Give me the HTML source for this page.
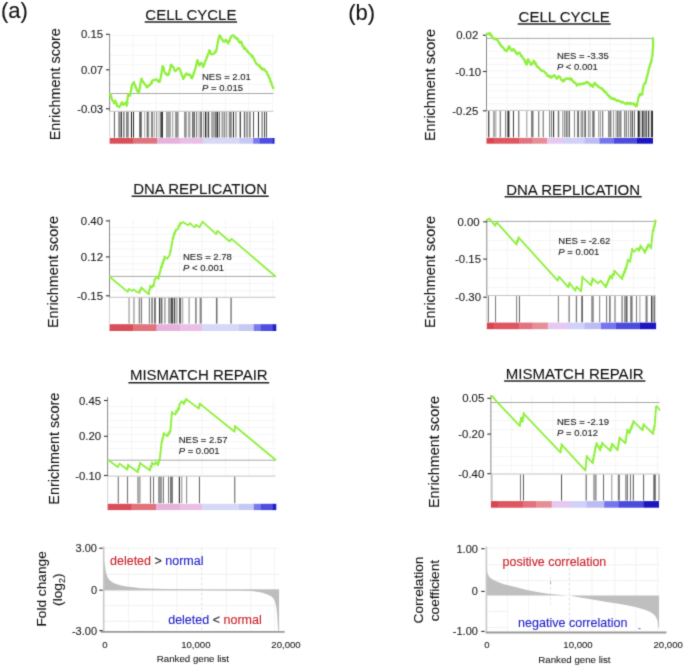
<!DOCTYPE html>
<html><head><meta charset="utf-8"><title>GSEA</title>
<style>html,body{margin:0;padding:0;background:#fff;} svg{display:block;will-change:transform;}</style>
</head><body>
<svg width="685" height="669" viewBox="0 0 685 669" font-family='"Liberation Sans", sans-serif'>
<style>text{stroke-width:0.1px;} .k{stroke:#1a1a1a;} .r{stroke:#c82028;} .b{stroke:#2222c8;}</style>
<defs><filter id="soft" x="0" y="0" width="685" height="669" filterUnits="userSpaceOnUse" color-interpolation-filters="sRGB"><feConvolveMatrix order="3" kernelMatrix="0.037 0.191 0.037 0.191 1 0.191 0.037 0.191 0.037" divisor="1.912" edgeMode="duplicate"/></filter></defs>
<rect width="685" height="669" fill="#fff"/>
<g filter="url(#soft)">
<text x="1.00" y="17.60" font-size="22" text-anchor="start" fill="#111" stroke="#111" >(a)</text>
<text x="348.20" y="20.40" font-size="22" text-anchor="start" fill="#111" stroke="#111" >(b)</text>
<line x1="133.10" y1="34.00" x2="133.10" y2="111.30" stroke="#f5f5f5" stroke-width="1" />
<line x1="155.90" y1="34.00" x2="155.90" y2="111.30" stroke="#f5f5f5" stroke-width="1" />
<line x1="179.50" y1="34.00" x2="179.50" y2="111.30" stroke="#f5f5f5" stroke-width="1" />
<line x1="202.50" y1="34.00" x2="202.50" y2="111.30" stroke="#f5f5f5" stroke-width="1" />
<line x1="225.50" y1="34.00" x2="225.50" y2="111.30" stroke="#f5f5f5" stroke-width="1" />
<line x1="248.60" y1="34.00" x2="248.60" y2="111.30" stroke="#f5f5f5" stroke-width="1" />
<line x1="272.60" y1="34.00" x2="272.60" y2="111.30" stroke="#f5f5f5" stroke-width="1" />
<line x1="109.60" y1="35.50" x2="273.50" y2="35.50" stroke="#f5f5f5" stroke-width="1" />
<line x1="109.60" y1="45.20" x2="273.50" y2="45.20" stroke="#f5f5f5" stroke-width="1" />
<line x1="109.60" y1="55.30" x2="273.50" y2="55.30" stroke="#f5f5f5" stroke-width="1" />
<line x1="109.60" y1="64.60" x2="273.50" y2="64.60" stroke="#f5f5f5" stroke-width="1" />
<line x1="109.60" y1="74.50" x2="273.50" y2="74.50" stroke="#f5f5f5" stroke-width="1" />
<line x1="109.60" y1="84.50" x2="273.50" y2="84.50" stroke="#f5f5f5" stroke-width="1" />
<line x1="109.60" y1="103.30" x2="273.50" y2="103.30" stroke="#f5f5f5" stroke-width="1" />
<line x1="109.60" y1="93.50" x2="273.50" y2="93.50" stroke="#a8a8a8" stroke-width="1" />
<line x1="109.60" y1="111.30" x2="273.50" y2="111.30" stroke="#c4c4c4" stroke-width="1" />
<rect x="113.90" y="111.90" width="1.00" height="25.70" fill="rgb(90,90,90)" />
<rect x="118.27" y="111.90" width="2.47" height="25.70" fill="rgb(140,140,140)" />
<rect x="120.95" y="111.90" width="1.00" height="25.70" fill="rgb(50,50,50)" />
<rect x="123.14" y="111.90" width="1.42" height="25.70" fill="rgb(120,120,120)" />
<rect x="126.35" y="111.90" width="1.00" height="25.70" fill="rgb(70,70,70)" />
<rect x="127.34" y="111.90" width="1.33" height="25.70" fill="rgb(110,110,110)" />
<rect x="130.95" y="111.90" width="1.00" height="25.70" fill="rgb(20,20,20)" />
<rect x="133.05" y="111.90" width="1.00" height="25.70" fill="rgb(40,40,40)" />
<rect x="139.26" y="111.90" width="2.47" height="25.70" fill="rgb(90,90,90)" />
<rect x="144.20" y="111.90" width="1.00" height="25.70" fill="rgb(170,170,170)" />
<rect x="146.75" y="111.90" width="1.00" height="25.70" fill="rgb(60,60,60)" />
<rect x="148.23" y="111.90" width="1.05" height="25.70" fill="rgb(130,130,130)" />
<rect x="151.43" y="111.90" width="1.14" height="25.70" fill="rgb(50,50,50)" />
<rect x="153.75" y="111.90" width="1.00" height="25.70" fill="rgb(150,150,150)" />
<rect x="156.03" y="111.90" width="1.14" height="25.70" fill="rgb(150,150,150)" />
<rect x="158.45" y="111.90" width="1.00" height="25.70" fill="rgb(170,170,170)" />
<rect x="160.34" y="111.90" width="1.61" height="25.70" fill="rgb(70,70,70)" />
<rect x="161.90" y="111.90" width="1.00" height="25.70" fill="rgb(30,30,30)" />
<rect x="165.93" y="111.90" width="4.94" height="25.70" fill="rgb(165,165,165)" />
<rect x="172.25" y="111.90" width="1.00" height="25.70" fill="rgb(150,150,150)" />
<rect x="175.09" y="111.90" width="3.51" height="25.70" fill="rgb(145,145,145)" />
<rect x="183.97" y="111.90" width="2.85" height="25.70" fill="rgb(150,150,150)" />
<rect x="188.06" y="111.90" width="2.38" height="25.70" fill="rgb(165,165,165)" />
<rect x="192.03" y="111.90" width="1.14" height="25.70" fill="rgb(110,110,110)" />
<rect x="193.53" y="111.90" width="1.14" height="25.70" fill="rgb(30,30,30)" />
<rect x="196.03" y="111.90" width="1.14" height="25.70" fill="rgb(120,120,120)" />
<rect x="198.55" y="111.90" width="1.00" height="25.70" fill="rgb(150,150,150)" />
<rect x="200.34" y="111.90" width="1.42" height="25.70" fill="rgb(70,70,70)" />
<rect x="203.10" y="111.90" width="1.00" height="25.70" fill="rgb(160,160,160)" />
<rect x="204.94" y="111.90" width="1.42" height="25.70" fill="rgb(35,35,35)" />
<rect x="207.64" y="111.90" width="1.52" height="25.70" fill="rgb(70,70,70)" />
<rect x="211.09" y="111.90" width="3.32" height="25.70" fill="rgb(165,165,165)" />
<rect x="214.56" y="111.90" width="2.19" height="25.70" fill="rgb(120,120,120)" />
<rect x="216.83" y="111.90" width="1.14" height="25.70" fill="rgb(40,40,40)" />
<rect x="218.73" y="111.90" width="1.14" height="25.70" fill="rgb(100,100,100)" />
<rect x="221.45" y="111.90" width="1.81" height="25.70" fill="rgb(160,160,160)" />
<rect x="223.64" y="111.90" width="1.71" height="25.70" fill="rgb(140,140,140)" />
<rect x="226.25" y="111.90" width="1.00" height="25.70" fill="rgb(130,130,130)" />
<rect x="228.78" y="111.90" width="3.04" height="25.70" fill="rgb(135,135,135)" />
<rect x="232.93" y="111.90" width="1.04" height="25.70" fill="rgb(40,40,40)" />
<rect x="235.04" y="111.90" width="1.71" height="25.70" fill="rgb(170,170,170)" />
<rect x="239.64" y="111.90" width="1.33" height="25.70" fill="rgb(70,70,70)" />
<rect x="243.84" y="111.90" width="1.33" height="25.70" fill="rgb(100,100,100)" />
<rect x="245.96" y="111.90" width="2.28" height="25.70" fill="rgb(160,160,160)" />
<rect x="249.04" y="111.90" width="1.71" height="25.70" fill="rgb(140,140,140)" />
<rect x="253.05" y="111.90" width="1.00" height="25.70" fill="rgb(80,80,80)" />
<rect x="257.95" y="111.90" width="1.00" height="25.70" fill="rgb(40,40,40)" />
<rect x="261.34" y="111.90" width="1.61" height="25.70" fill="rgb(150,150,150)" />
<rect x="264.10" y="111.90" width="1.00" height="25.70" fill="rgb(60,60,60)" />
<rect x="266.05" y="111.90" width="1.00" height="25.70" fill="rgb(90,90,90)" />
<line x1="109.60" y1="111.30" x2="109.60" y2="137.60" stroke="#c8c8c8" stroke-width="0.8" />
<rect x="109.60" y="138.00" width="23.70" height="5.70" fill="#d94f59" />
<rect x="133.00" y="138.00" width="24.30" height="5.70" fill="#e1737c" />
<rect x="157.00" y="138.00" width="23.30" height="5.70" fill="#e6b2dc" />
<rect x="180.00" y="138.00" width="23.80" height="5.70" fill="#e9bfe6" />
<rect x="203.50" y="138.00" width="36.50" height="5.70" fill="#d6d8f7" />
<rect x="239.70" y="138.00" width="13.80" height="5.70" fill="#c6c8f5" />
<rect x="253.20" y="138.00" width="6.70" height="5.70" fill="#7a7aec" />
<rect x="259.60" y="138.00" width="13.10" height="5.70" fill="#4e4ee2" />
<rect x="272.40" y="138.00" width="2.10" height="5.70" fill="#2020c6" />
<line x1="109.60" y1="34.00" x2="109.60" y2="111.30" stroke="#8a8a8a" stroke-width="1" />
<line x1="106.00" y1="34.30" x2="109.60" y2="34.30" stroke="#333" stroke-width="1.1" />
<text x="103.20" y="38.40" font-size="11.4" text-anchor="end" fill="#1a1a1a" stroke="#1a1a1a" >0.15</text>
<line x1="106.00" y1="69.80" x2="109.60" y2="69.80" stroke="#333" stroke-width="1.1" />
<text x="103.20" y="73.90" font-size="11.4" text-anchor="end" fill="#1a1a1a" stroke="#1a1a1a" >0.07</text>
<line x1="106.00" y1="108.80" x2="109.60" y2="108.80" stroke="#333" stroke-width="1.1" />
<text x="103.20" y="112.90" font-size="11.4" text-anchor="end" fill="#1a1a1a" stroke="#1a1a1a" >-0.03</text>
<polyline points="109.9,93.9 110.2,94.1 110.6,95.1 110.7,96.4 111.3,95.9 111.4,97.1 111.8,98.3 112.1,100.0 112.5,100.4 112.8,100.7 113.3,101.4 113.7,101.9 113.8,102.9 114.3,103.3 114.6,103.1 114.6,101.5 115.0,101.9 115.2,100.5 115.6,101.6 115.9,102.3 116.1,102.3 116.4,103.0 116.5,104.6 116.8,103.7 117.1,106.1 117.4,105.8 118.0,106.5 118.6,106.7 119.3,107.1 119.7,106.1 120.1,105.8 120.5,105.3 120.9,105.0 121.0,103.9 121.6,103.5 121.8,102.1 122.3,103.5 122.7,103.8 123.2,104.6 123.7,104.6 124.2,103.5 125.1,104.0 125.6,102.7 126.0,102.7 126.1,104.1 126.6,104.6 126.8,105.8 126.7,105.8 126.8,104.6 127.0,104.1 127.3,103.7 127.4,102.3 127.2,101.2 127.2,101.1 127.4,99.5 127.4,99.7 127.7,97.8 127.8,97.7 127.7,98.1 127.9,96.5 128.0,96.2 128.1,95.3 128.1,94.5 128.7,95.8 129.4,95.2 130.0,95.8 130.1,94.6 130.3,95.3 130.3,93.8 130.6,92.8 130.7,91.3 130.7,91.8 130.9,91.1 131.0,90.4 131.3,89.8 131.2,87.7 131.6,88.3 131.6,86.7 131.7,86.7 131.9,85.8 132.1,84.9 132.5,84.3 132.8,83.5 133.0,83.8 133.5,82.8 133.7,82.0 133.9,82.3 134.2,84.0 134.5,83.5 134.7,85.2 135.1,85.1 135.4,86.9 135.6,87.6 136.1,87.3 136.3,88.3 136.6,89.8 136.9,89.2 137.3,90.5 137.8,91.8 138.0,91.2 138.5,93.2 138.8,93.3 138.9,93.2 139.0,91.1 139.1,91.7 139.3,90.1 139.4,89.5 139.4,89.8 139.8,87.3 139.9,88.3 140.1,86.7 140.0,87.0 140.3,85.9 140.3,85.0 140.4,83.5 140.4,82.7 140.6,82.7 140.7,82.4 141.0,81.9 141.2,81.2 141.2,80.4 141.3,78.9 141.8,78.6 142.0,79.5 142.5,81.1 143.0,81.2 143.2,82.2 143.7,82.2 144.1,83.2 144.4,83.9 144.8,84.2 145.5,85.2 146.0,85.1 146.5,87.2 146.9,87.0 147.4,87.3 148.3,86.5 148.8,85.0 149.5,85.0 150.1,85.1 150.4,84.3 150.7,84.4 151.1,82.3 151.4,81.8 152.0,82.9 152.2,80.5 152.6,80.7 153.3,80.0 154.2,79.8 154.9,80.0 155.7,79.5 156.3,79.3 157.0,79.5 157.6,80.7 158.2,81.6 158.8,80.7 159.5,82.0 159.7,81.0 159.9,81.1 160.1,80.4 160.3,78.9 160.6,78.3 160.7,77.6 160.9,76.7 160.9,76.1 161.1,75.6 161.2,73.9 161.4,73.9 161.4,74.2 161.6,73.5 161.6,71.5 161.9,70.5 162.0,70.9 162.1,70.4 162.1,69.6 162.3,67.6 162.3,66.7 162.3,67.6 162.6,66.3 162.8,66.2 163.1,68.5 163.5,67.4 163.8,68.3 164.1,70.1 164.3,71.4 164.4,71.8 164.8,72.4 165.1,72.6 165.5,73.7 166.2,74.3 166.5,73.6 167.0,75.1 168.0,74.9 168.9,74.5 169.0,73.3 169.2,72.5 169.3,72.8 169.5,71.3 169.6,70.5 169.8,69.3 169.9,70.3 170.0,69.1 170.3,68.3 170.4,67.5 170.6,66.4 170.5,66.5 170.8,65.0 171.5,64.6 172.1,66.7 172.7,66.3 173.1,66.9 173.3,67.1 173.8,67.8 174.0,68.8 174.6,70.3 174.9,70.2 175.2,71.3 175.9,70.5 176.4,70.2 177.1,69.4 177.6,68.4 178.3,68.6 178.9,68.2 179.2,68.3 179.7,69.3 180.2,69.7 180.4,71.1 180.8,71.9 181.2,72.5 181.3,73.9 181.6,74.0 181.8,75.4 182.2,75.9 182.2,76.0 182.6,76.3 182.9,77.9 183.0,78.9 183.3,78.9 183.6,77.6 184.1,76.8 184.5,77.5 184.8,75.6 185.1,75.0 185.3,75.1 185.8,73.9 186.6,73.4 187.1,74.1 187.8,75.0 188.4,75.1 189.2,74.1 190.0,75.0 190.4,75.6 190.8,75.8 191.2,78.0 191.5,77.8 192.0,78.4 192.3,77.3 192.6,76.3 192.5,77.2 192.9,76.6 193.2,75.6 193.4,73.9 193.6,74.0 193.9,72.5 194.0,72.3 194.3,72.6 194.4,71.0 194.7,70.3 195.0,70.1 195.1,69.1 195.4,68.3 195.6,67.9 195.9,66.2 195.8,66.4 196.0,66.2 196.4,64.3 196.5,64.1 196.7,63.4 196.8,62.0 197.1,60.8 197.2,61.4 197.4,60.2 197.6,61.4 197.9,61.1 198.0,63.0 198.3,62.9 198.6,64.1 198.9,63.9 199.2,65.0 199.4,65.6 200.0,64.6 200.3,63.5 200.8,62.8 201.4,62.9 201.8,64.1 202.0,63.6 202.5,64.8 202.8,66.3 203.0,66.5 203.4,67.0 203.5,66.1 203.8,65.7 204.0,64.4 204.1,64.8 204.6,64.2 204.6,63.8 204.9,62.3 205.2,61.8 205.2,61.3 205.5,60.2 205.8,60.3 206.2,59.1 206.6,57.2 206.8,57.9 207.2,56.9 207.5,56.2 207.7,54.9 207.9,53.9 208.1,54.5 208.5,53.7 208.5,53.7 208.9,52.8 209.0,50.6 209.2,50.3 209.5,50.2 210.0,50.9 210.3,51.2 210.4,52.6 210.9,53.6 211.2,54.4 211.5,54.2 212.1,54.3 213.0,54.1 213.5,53.9 214.2,52.8 214.9,52.9 215.4,51.2 216.2,51.5 216.2,49.9 216.5,49.3 216.6,49.7 216.8,48.4 216.8,47.4 217.0,47.6 217.2,45.7 217.2,46.0 217.4,44.6 217.5,44.1 217.6,43.6 217.8,41.7 217.9,42.5 218.1,41.1 218.3,39.9 218.5,39.6 218.6,38.1 218.9,37.6 218.9,36.7 219.2,36.7 219.3,36.5 219.6,35.4 220.0,35.9 220.5,35.8 220.7,36.8 221.1,38.0 221.6,38.7 222.1,39.6 222.5,39.3 223.0,41.2 223.6,41.4 224.3,41.7 224.9,41.6 225.6,39.9 226.3,40.1 226.7,41.4 227.0,41.1 227.6,42.4 227.8,42.9 228.3,43.4 228.4,41.8 228.7,41.4 229.2,40.5 229.3,41.5 229.6,41.0 230.0,40.0 230.1,39.6 230.5,37.6 230.6,38.3 231.0,36.7 231.8,36.0 232.3,35.3 233.1,35.4 233.7,35.4 234.1,36.8 234.8,36.9 235.2,37.6 235.7,37.4 236.3,38.7 237.0,38.1 237.7,38.7 238.0,39.9 238.3,39.6 238.7,41.2 239.0,41.9 239.3,42.1 239.7,42.8 240.2,42.5 241.0,41.4 241.3,42.0 241.4,43.1 241.9,42.9 242.2,44.4 242.3,45.5 242.6,46.2 242.8,45.8 243.1,46.8 243.6,46.5 244.0,48.8 244.5,48.6 245.2,48.1 245.7,49.5 246.0,49.5 246.6,49.9 246.9,51.3 247.6,51.2 248.0,51.7 248.4,52.8 249.2,53.2 249.8,54.1 250.3,54.4 251.1,54.9 251.4,54.9 251.9,56.9 252.6,55.9 253.0,57.0 253.3,57.4 253.8,58.9 254.3,59.0 254.6,60.5 255.1,61.4 255.4,61.3 255.6,62.1 256.1,63.6 256.5,63.6 257.1,64.7 257.8,64.5 258.5,64.9 258.8,65.9 259.4,65.7 259.9,65.7 260.3,67.6 260.8,68.0 261.2,68.3 261.8,68.0 262.5,69.8 263.1,68.9 263.8,68.8 264.6,69.6 265.2,71.0 265.7,71.3 266.2,71.3 266.6,71.6 266.9,72.3 267.3,73.8 267.5,74.5 267.7,74.8 268.2,76.0 268.4,75.2 268.6,76.3 268.7,76.3 269.1,78.1 269.5,78.4 269.8,78.1 269.9,79.3 270.3,80.1 270.4,81.6 270.7,80.9 270.9,82.2 271.3,83.1 271.6,83.1 271.9,84.8 272.2,86.0 272.2,85.5 272.5,86.0 272.8,87.1 273.2,87.5 273.3,88.4" fill="none" stroke="#8ef03c" stroke-width="2.2" stroke-linejoin="round" stroke-linecap="round"/>
<text x="202.00" y="80.10" font-size="9.5" text-anchor="start" fill="#1a1a1a" stroke="#1a1a1a" >NES = 2.01</text>
<text x="202.00" y="90.90" font-size="9.5" text-anchor="start" fill="#1a1a1a" stroke="#1a1a1a" ><tspan font-style="italic">P</tspan> = 0.015</text>
<text x="190.90" y="19.80" font-size="15" text-anchor="middle" fill="#111" stroke="#111" >CELL CYCLE</text>
<line x1="144.70" y1="21.90" x2="237.10" y2="21.90" stroke="#222" stroke-width="1.5" />
<text x="0" y="0" font-size="14.4" text-anchor="middle" fill="#111" stroke="#111" transform="translate(59.90,84.30) rotate(-90)">Enrichment score</text>
<line x1="133.10" y1="219.50" x2="133.10" y2="297.30" stroke="#f5f5f5" stroke-width="1" />
<line x1="156.70" y1="219.50" x2="156.70" y2="297.30" stroke="#f5f5f5" stroke-width="1" />
<line x1="179.50" y1="219.50" x2="179.50" y2="297.30" stroke="#f5f5f5" stroke-width="1" />
<line x1="202.00" y1="219.50" x2="202.00" y2="297.30" stroke="#f5f5f5" stroke-width="1" />
<line x1="225.50" y1="219.50" x2="225.50" y2="297.30" stroke="#f5f5f5" stroke-width="1" />
<line x1="249.70" y1="219.50" x2="249.70" y2="297.30" stroke="#f5f5f5" stroke-width="1" />
<line x1="272.60" y1="219.50" x2="272.60" y2="297.30" stroke="#f5f5f5" stroke-width="1" />
<line x1="109.50" y1="227.50" x2="275.50" y2="227.50" stroke="#f5f5f5" stroke-width="1" />
<line x1="109.50" y1="234.50" x2="275.50" y2="234.50" stroke="#f5f5f5" stroke-width="1" />
<line x1="109.50" y1="241.50" x2="275.50" y2="241.50" stroke="#f5f5f5" stroke-width="1" />
<line x1="109.50" y1="249.00" x2="275.50" y2="249.00" stroke="#f5f5f5" stroke-width="1" />
<line x1="109.50" y1="256.50" x2="275.50" y2="256.50" stroke="#f5f5f5" stroke-width="1" />
<line x1="109.50" y1="263.80" x2="275.50" y2="263.80" stroke="#f5f5f5" stroke-width="1" />
<line x1="109.50" y1="269.50" x2="275.50" y2="269.50" stroke="#f5f5f5" stroke-width="1" />
<line x1="109.50" y1="283.30" x2="275.50" y2="283.30" stroke="#f5f5f5" stroke-width="1" />
<line x1="109.50" y1="290.70" x2="275.50" y2="290.70" stroke="#f5f5f5" stroke-width="1" />
<line x1="109.50" y1="276.40" x2="275.50" y2="276.40" stroke="#a8a8a8" stroke-width="1" />
<line x1="109.50" y1="297.30" x2="275.50" y2="297.30" stroke="#c4c4c4" stroke-width="1" />
<rect x="128.34" y="297.90" width="1.42" height="25.70" fill="rgb(170,170,170)" />
<rect x="133.24" y="297.90" width="1.42" height="25.70" fill="rgb(160,160,160)" />
<rect x="138.73" y="297.90" width="1.14" height="25.70" fill="rgb(120,120,120)" />
<rect x="140.83" y="297.90" width="1.23" height="25.70" fill="rgb(120,120,120)" />
<rect x="148.83" y="297.90" width="1.14" height="25.70" fill="rgb(130,130,130)" />
<rect x="151.34" y="297.90" width="1.42" height="25.70" fill="rgb(110,110,110)" />
<rect x="154.05" y="297.90" width="1.81" height="25.70" fill="rgb(110,110,110)" />
<rect x="158.93" y="297.90" width="1.23" height="25.70" fill="rgb(60,60,60)" />
<rect x="160.65" y="297.90" width="1.81" height="25.70" fill="rgb(110,110,110)" />
<rect x="164.04" y="297.90" width="1.71" height="25.70" fill="rgb(170,170,170)" />
<rect x="168.07" y="297.90" width="2.56" height="25.70" fill="rgb(160,160,160)" />
<rect x="170.76" y="297.90" width="2.38" height="25.70" fill="rgb(80,80,80)" />
<rect x="173.84" y="297.90" width="1.42" height="25.70" fill="rgb(70,70,70)" />
<rect x="176.23" y="297.90" width="1.24" height="25.70" fill="rgb(150,150,150)" />
<rect x="179.06" y="297.90" width="2.09" height="25.70" fill="rgb(100,100,100)" />
<rect x="182.13" y="297.90" width="1.14" height="25.70" fill="rgb(170,170,170)" />
<rect x="188.53" y="297.90" width="1.14" height="25.70" fill="rgb(150,150,150)" />
<rect x="195.04" y="297.90" width="1.71" height="25.70" fill="rgb(140,140,140)" />
<rect x="199.65" y="297.90" width="2.09" height="25.70" fill="rgb(130,130,130)" />
<rect x="215.94" y="297.90" width="1.52" height="25.70" fill="rgb(110,110,110)" />
<rect x="230.34" y="297.90" width="1.52" height="25.70" fill="rgb(130,130,130)" />
<line x1="109.50" y1="297.30" x2="109.50" y2="323.60" stroke="#c8c8c8" stroke-width="0.8" />
<rect x="109.50" y="324.20" width="23.80" height="6.80" fill="#d94f59" />
<rect x="133.00" y="324.20" width="23.80" height="6.80" fill="#e1737c" />
<rect x="156.50" y="324.20" width="23.80" height="6.80" fill="#e6b2dc" />
<rect x="180.00" y="324.20" width="22.40" height="6.80" fill="#e9bfe6" />
<rect x="202.10" y="324.20" width="37.20" height="6.80" fill="#d6d8f7" />
<rect x="239.00" y="324.20" width="15.10" height="6.80" fill="#c6c8f5" />
<rect x="253.80" y="324.20" width="7.00" height="6.80" fill="#7a7aec" />
<rect x="260.50" y="324.20" width="12.40" height="6.80" fill="#4e4ee2" />
<rect x="272.60" y="324.20" width="3.70" height="6.80" fill="#2020c6" />
<line x1="109.50" y1="219.50" x2="109.50" y2="297.30" stroke="#8a8a8a" stroke-width="1" />
<line x1="105.90" y1="220.90" x2="109.50" y2="220.90" stroke="#333" stroke-width="1.1" />
<text x="103.00" y="225.00" font-size="11.4" text-anchor="end" fill="#1a1a1a" stroke="#1a1a1a" >0.40</text>
<line x1="105.90" y1="256.90" x2="109.50" y2="256.90" stroke="#333" stroke-width="1.1" />
<text x="103.00" y="261.00" font-size="11.4" text-anchor="end" fill="#1a1a1a" stroke="#1a1a1a" >0.12</text>
<line x1="105.90" y1="295.80" x2="109.50" y2="295.80" stroke="#333" stroke-width="1.1" />
<text x="103.00" y="299.90" font-size="11.4" text-anchor="end" fill="#1a1a1a" stroke="#1a1a1a" >-0.15</text>
<polyline points="109.6,276.7 127.7,291.9 129.0,288.9 131.7,290.9 133.6,289.6 136.3,291.5 139.5,292.8 139.8,289.7 140.8,290.5 141.2,287.4 142.2,288.2 145.5,291.5 149.0,294.2 149.2,289.3 149.8,290.5 150.1,285.6 150.7,286.9 152.0,287.8 152.7,285.0 154.0,286.0 154.1,282.2 154.3,283.2 154.4,279.4 154.7,280.4 156.6,276.4 158.6,279.0 158.8,275.5 159.3,276.4 159.4,272.9 159.9,273.8 160.1,270.3 160.6,271.2 160.9,266.3 161.9,267.5 162.2,262.6 163.2,263.9 163.4,259.5 164.2,260.6 164.4,256.3 165.2,257.4 167.2,258.7 169.8,254.7 170.0,251.6 170.4,252.4 170.6,249.3 171.1,250.1 171.2,246.5 171.5,247.5 171.6,243.9 172.0,244.8 172.1,241.3 172.4,242.2 172.7,237.3 173.4,238.6 173.7,233.7 174.4,235.0 174.7,231.9 175.4,232.7 175.7,229.6 176.4,230.4 178.3,228.4 178.6,225.3 179.7,226.1 180.0,223.0 181.0,223.8 182.9,221.9 185.6,223.8 188.2,225.1 190.2,223.2 192.0,225.4 194.7,227.4 196.1,224.8 199.4,227.4 200.8,224.8 202.5,221.7 216.2,234.2 217.5,230.8 229.6,241.5 231.6,238.9 275.3,276.2" fill="none" stroke="#8ef03c" stroke-width="1.8" stroke-linejoin="round" stroke-linecap="round"/>
<text x="183.00" y="260.10" font-size="9.5" text-anchor="start" fill="#1a1a1a" stroke="#1a1a1a" >NES = 2.78</text>
<text x="183.00" y="270.80" font-size="9.5" text-anchor="start" fill="#1a1a1a" stroke="#1a1a1a" ><tspan font-style="italic">P</tspan> &lt; 0.001</text>
<text x="200.15" y="194.40" font-size="15" text-anchor="middle" fill="#111" stroke="#111" >DNA REPLICATION</text>
<line x1="131.60" y1="196.30" x2="268.70" y2="196.30" stroke="#222" stroke-width="1.5" />
<text x="0" y="0" font-size="14.4" text-anchor="middle" fill="#111" stroke="#111" transform="translate(58.10,272.00) rotate(-90)">Enrichment score</text>
<line x1="131.60" y1="397.10" x2="131.60" y2="476.10" stroke="#f5f5f5" stroke-width="1" />
<line x1="155.30" y1="397.10" x2="155.30" y2="476.10" stroke="#f5f5f5" stroke-width="1" />
<line x1="178.80" y1="397.10" x2="178.80" y2="476.10" stroke="#f5f5f5" stroke-width="1" />
<line x1="201.80" y1="397.10" x2="201.80" y2="476.10" stroke="#f5f5f5" stroke-width="1" />
<line x1="225.60" y1="397.10" x2="225.60" y2="476.10" stroke="#f5f5f5" stroke-width="1" />
<line x1="248.70" y1="397.10" x2="248.70" y2="476.10" stroke="#f5f5f5" stroke-width="1" />
<line x1="273.30" y1="397.10" x2="273.30" y2="476.10" stroke="#f5f5f5" stroke-width="1" />
<line x1="107.60" y1="406.50" x2="275.50" y2="406.50" stroke="#f5f5f5" stroke-width="1" />
<line x1="107.60" y1="413.50" x2="275.50" y2="413.50" stroke="#f5f5f5" stroke-width="1" />
<line x1="107.60" y1="420.50" x2="275.50" y2="420.50" stroke="#f5f5f5" stroke-width="1" />
<line x1="107.60" y1="427.50" x2="275.50" y2="427.50" stroke="#f5f5f5" stroke-width="1" />
<line x1="107.60" y1="434.50" x2="275.50" y2="434.50" stroke="#f5f5f5" stroke-width="1" />
<line x1="107.60" y1="441.50" x2="275.50" y2="441.50" stroke="#f5f5f5" stroke-width="1" />
<line x1="107.60" y1="448.50" x2="275.50" y2="448.50" stroke="#f5f5f5" stroke-width="1" />
<line x1="107.60" y1="467.50" x2="275.50" y2="467.50" stroke="#f5f5f5" stroke-width="1" />
<line x1="107.60" y1="460.20" x2="275.50" y2="460.20" stroke="#a8a8a8" stroke-width="1" />
<line x1="107.60" y1="476.10" x2="275.50" y2="476.10" stroke="#c4c4c4" stroke-width="1" />
<rect x="117.73" y="476.70" width="1.14" height="26.60" fill="rgb(120,120,120)" />
<rect x="126.93" y="476.70" width="1.14" height="26.60" fill="rgb(120,120,120)" />
<rect x="137.09" y="476.70" width="3.51" height="26.60" fill="rgb(170,170,170)" />
<rect x="149.93" y="476.70" width="1.14" height="26.60" fill="rgb(115,115,115)" />
<rect x="153.05" y="476.70" width="1.00" height="26.60" fill="rgb(110,110,110)" />
<rect x="158.10" y="476.70" width="3.80" height="26.60" fill="rgb(150,150,150)" />
<rect x="162.85" y="476.70" width="1.00" height="26.60" fill="rgb(100,100,100)" />
<rect x="168.05" y="476.70" width="1.00" height="26.60" fill="rgb(120,120,120)" />
<rect x="169.98" y="476.70" width="2.94" height="26.60" fill="rgb(120,120,120)" />
<rect x="178.83" y="476.70" width="1.14" height="26.60" fill="rgb(50,50,50)" />
<rect x="181.25" y="476.70" width="1.00" height="26.60" fill="rgb(140,140,140)" />
<rect x="186.15" y="476.70" width="1.00" height="26.60" fill="rgb(130,130,130)" />
<rect x="198.93" y="476.70" width="1.04" height="26.60" fill="rgb(100,100,100)" />
<rect x="234.23" y="476.70" width="1.05" height="26.60" fill="rgb(100,100,100)" />
<line x1="107.60" y1="476.10" x2="107.60" y2="503.30" stroke="#c8c8c8" stroke-width="0.8" />
<rect x="107.60" y="503.80" width="24.30" height="6.30" fill="#d94f59" />
<rect x="131.60" y="503.80" width="24.70" height="6.30" fill="#e1737c" />
<rect x="156.00" y="503.80" width="24.30" height="6.30" fill="#e6b2dc" />
<rect x="180.00" y="503.80" width="22.40" height="6.30" fill="#e9bfe6" />
<rect x="202.10" y="503.80" width="37.20" height="6.30" fill="#d6d8f7" />
<rect x="239.00" y="503.80" width="15.10" height="6.30" fill="#c6c8f5" />
<rect x="253.80" y="503.80" width="7.00" height="6.30" fill="#7a7aec" />
<rect x="260.50" y="503.80" width="12.40" height="6.30" fill="#4e4ee2" />
<rect x="272.60" y="503.80" width="3.70" height="6.30" fill="#2020c6" />
<line x1="107.60" y1="397.10" x2="107.60" y2="476.10" stroke="#8a8a8a" stroke-width="1" />
<line x1="104.00" y1="400.50" x2="107.60" y2="400.50" stroke="#333" stroke-width="1.1" />
<text x="101.20" y="404.60" font-size="11.4" text-anchor="end" fill="#1a1a1a" stroke="#1a1a1a" >0.45</text>
<line x1="104.00" y1="436.30" x2="107.60" y2="436.30" stroke="#333" stroke-width="1.1" />
<text x="101.20" y="440.40" font-size="11.4" text-anchor="end" fill="#1a1a1a" stroke="#1a1a1a" >0.20</text>
<line x1="104.00" y1="475.50" x2="107.60" y2="475.50" stroke="#333" stroke-width="1.1" />
<text x="101.20" y="479.60" font-size="11.4" text-anchor="end" fill="#1a1a1a" stroke="#1a1a1a" >-0.10</text>
<polyline points="108.2,460.1 117.8,467.1 119.6,463.6 127.4,469.7 127.5,466.7 127.9,467.5 128.0,464.5 128.3,465.3 138.0,472.3 138.2,468.4 138.9,469.4 139.1,465.5 139.7,466.5 140.0,462.6 140.6,463.6 150.2,470.6 150.5,465.9 151.6,467.1 151.9,462.4 152.9,463.6 154.5,464.8 155.5,462.0 158.1,465.3 158.3,461.8 159.0,462.7 159.2,459.2 159.9,460.1 160.0,455.8 160.2,456.9 160.3,452.7 160.6,453.8 160.7,449.5 160.9,450.6 161.0,446.4 161.3,447.5 161.3,443.2 161.6,444.3 161.8,440.8 162.2,441.7 162.4,438.1 162.9,439.1 163.1,435.5 163.6,436.4 163.7,432.9 164.2,433.8 167.7,436.4 168.0,433.4 169.1,434.2 169.4,431.2 170.4,432.0 170.5,427.7 170.7,428.8 170.8,424.5 171.0,425.6 171.0,421.3 171.2,422.4 171.3,418.1 171.5,419.2 171.6,414.9 171.8,416.0 171.9,411.7 172.1,412.8 175.6,414.5 176.0,411.0 177.3,411.9 177.8,408.4 179.1,409.3 179.2,406.3 179.3,407.1 179.4,404.1 179.5,404.9 181.7,401.2 184.0,404.1 184.4,401.1 185.4,401.9 185.8,398.9 186.9,399.7 198.8,408.6 199.0,405.6 199.6,406.4 199.7,403.3 200.3,404.1 234.6,431.7 234.7,428.2 234.9,429.1 235.0,425.6 235.3,426.5 275.5,459.7" fill="none" stroke="#8ef03c" stroke-width="1.8" stroke-linejoin="round" stroke-linecap="round"/>
<text x="178.70" y="443.20" font-size="9.5" text-anchor="start" fill="#1a1a1a" stroke="#1a1a1a" >NES = 2.57</text>
<text x="178.70" y="454.00" font-size="9.5" text-anchor="start" fill="#1a1a1a" stroke="#1a1a1a" ><tspan font-style="italic">P</tspan> = 0.001</text>
<text x="198.80" y="380.40" font-size="15" text-anchor="middle" fill="#111" stroke="#111" >MISMATCH REPAIR</text>
<line x1="128.40" y1="382.80" x2="269.20" y2="382.80" stroke="#222" stroke-width="1.5" />
<text x="0" y="0" font-size="14.4" text-anchor="middle" fill="#111" stroke="#111" transform="translate(59.00,448.70) rotate(-90)">Enrichment score</text>
<line x1="507.20" y1="33.00" x2="507.20" y2="110.40" stroke="#f5f5f5" stroke-width="1" />
<line x1="527.90" y1="33.00" x2="527.90" y2="110.40" stroke="#f5f5f5" stroke-width="1" />
<line x1="548.70" y1="33.00" x2="548.70" y2="110.40" stroke="#f5f5f5" stroke-width="1" />
<line x1="569.30" y1="33.00" x2="569.30" y2="110.40" stroke="#f5f5f5" stroke-width="1" />
<line x1="590.20" y1="33.00" x2="590.20" y2="110.40" stroke="#f5f5f5" stroke-width="1" />
<line x1="610.20" y1="33.00" x2="610.20" y2="110.40" stroke="#f5f5f5" stroke-width="1" />
<line x1="630.70" y1="33.00" x2="630.70" y2="110.40" stroke="#f5f5f5" stroke-width="1" />
<line x1="652.00" y1="33.00" x2="652.00" y2="110.40" stroke="#f5f5f5" stroke-width="1" />
<line x1="486.50" y1="44.30" x2="653.00" y2="44.30" stroke="#f5f5f5" stroke-width="1" />
<line x1="486.50" y1="51.20" x2="653.00" y2="51.20" stroke="#f5f5f5" stroke-width="1" />
<line x1="486.50" y1="58.10" x2="653.00" y2="58.10" stroke="#f5f5f5" stroke-width="1" />
<line x1="486.50" y1="64.40" x2="653.00" y2="64.40" stroke="#f5f5f5" stroke-width="1" />
<line x1="486.50" y1="71.00" x2="653.00" y2="71.00" stroke="#f5f5f5" stroke-width="1" />
<line x1="486.50" y1="77.60" x2="653.00" y2="77.60" stroke="#f5f5f5" stroke-width="1" />
<line x1="486.50" y1="84.50" x2="653.00" y2="84.50" stroke="#f5f5f5" stroke-width="1" />
<line x1="486.50" y1="90.80" x2="653.00" y2="90.80" stroke="#f5f5f5" stroke-width="1" />
<line x1="486.50" y1="97.70" x2="653.00" y2="97.70" stroke="#f5f5f5" stroke-width="1" />
<line x1="486.50" y1="104.00" x2="653.00" y2="104.00" stroke="#f5f5f5" stroke-width="1" />
<line x1="486.50" y1="38.40" x2="653.00" y2="38.40" stroke="#a8a8a8" stroke-width="1" />
<line x1="486.50" y1="110.40" x2="653.00" y2="110.40" stroke="#c4c4c4" stroke-width="1" />
<rect x="488.20" y="111.00" width="1.10" height="26.30" fill="rgb(40,40,40)" />
<rect x="492.89" y="111.00" width="2.12" height="26.30" fill="rgb(170,170,170)" />
<rect x="495.35" y="111.00" width="1.00" height="26.30" fill="rgb(160,160,160)" />
<rect x="499.75" y="111.00" width="1.00" height="26.30" fill="rgb(100,100,100)" />
<rect x="505.09" y="111.00" width="1.02" height="26.30" fill="rgb(120,120,120)" />
<rect x="507.38" y="111.00" width="2.04" height="26.30" fill="rgb(50,50,50)" />
<rect x="512.95" y="111.00" width="1.00" height="26.30" fill="rgb(60,60,60)" />
<rect x="518.29" y="111.00" width="1.02" height="26.30" fill="rgb(90,90,90)" />
<rect x="526.29" y="111.00" width="1.02" height="26.30" fill="rgb(150,150,150)" />
<rect x="531.11" y="111.00" width="2.38" height="26.30" fill="rgb(120,120,120)" />
<rect x="538.25" y="111.00" width="1.00" height="26.30" fill="rgb(100,100,100)" />
<rect x="542.69" y="111.00" width="1.02" height="26.30" fill="rgb(100,100,100)" />
<rect x="549.12" y="111.00" width="1.00" height="26.30" fill="rgb(122,122,122)" />
<rect x="550.98" y="111.00" width="1.00" height="26.30" fill="rgb(122,122,122)" />
<rect x="553.09" y="111.00" width="1.02" height="26.30" fill="rgb(30,30,30)" />
<rect x="557.74" y="111.00" width="1.53" height="26.30" fill="rgb(120,120,120)" />
<rect x="562.29" y="111.00" width="1.02" height="26.30" fill="rgb(140,140,140)" />
<rect x="564.29" y="111.00" width="1.00" height="26.30" fill="rgb(108,108,108)" />
<rect x="565.86" y="111.00" width="1.00" height="26.30" fill="rgb(108,108,108)" />
<rect x="567.44" y="111.00" width="1.00" height="26.30" fill="rgb(108,108,108)" />
<rect x="569.01" y="111.00" width="1.00" height="26.30" fill="rgb(108,108,108)" />
<rect x="573.95" y="111.00" width="1.00" height="26.30" fill="rgb(130,130,130)" />
<rect x="577.16" y="111.00" width="1.87" height="26.30" fill="rgb(110,110,110)" />
<rect x="580.67" y="111.00" width="1.00" height="26.30" fill="rgb(117,117,117)" />
<rect x="582.23" y="111.00" width="1.00" height="26.30" fill="rgb(117,117,117)" />
<rect x="584.26" y="111.00" width="1.79" height="26.30" fill="rgb(110,110,110)" />
<rect x="587.89" y="111.00" width="1.02" height="26.30" fill="rgb(150,150,150)" />
<rect x="589.55" y="111.00" width="1.00" height="26.30" fill="rgb(130,130,130)" />
<rect x="592.30" y="111.00" width="2.29" height="26.30" fill="rgb(110,110,110)" />
<rect x="598.29" y="111.00" width="1.02" height="26.30" fill="rgb(140,140,140)" />
<rect x="599.95" y="111.00" width="1.00" height="26.30" fill="rgb(160,160,160)" />
<rect x="602.01" y="111.00" width="1.27" height="26.30" fill="rgb(130,130,130)" />
<rect x="607.96" y="111.00" width="1.87" height="26.30" fill="rgb(140,140,140)" />
<rect x="610.11" y="111.00" width="1.27" height="26.30" fill="rgb(110,110,110)" />
<rect x="612.95" y="111.00" width="1.00" height="26.30" fill="rgb(150,150,150)" />
<rect x="615.55" y="111.00" width="1.00" height="26.30" fill="rgb(140,140,140)" />
<rect x="617.09" y="111.00" width="1.02" height="26.30" fill="rgb(110,110,110)" />
<rect x="618.58" y="111.00" width="1.00" height="26.30" fill="rgb(77,77,77)" />
<rect x="620.33" y="111.00" width="1.00" height="26.30" fill="rgb(77,77,77)" />
<rect x="624.03" y="111.00" width="1.45" height="26.30" fill="rgb(130,130,130)" />
<rect x="626.00" y="111.00" width="1.00" height="26.30" fill="rgb(130,130,130)" />
<rect x="627.95" y="111.00" width="1.00" height="26.30" fill="rgb(130,130,130)" />
<rect x="630.30" y="111.00" width="1.00" height="26.30" fill="rgb(72,72,72)" />
<rect x="631.90" y="111.00" width="1.00" height="26.30" fill="rgb(72,72,72)" />
<rect x="633.90" y="111.00" width="1.00" height="26.30" fill="rgb(100,100,100)" />
<rect x="637.68" y="111.00" width="2.04" height="26.30" fill="rgb(30,30,30)" />
<rect x="640.35" y="111.00" width="1.00" height="26.30" fill="rgb(170,170,170)" />
<rect x="641.89" y="111.00" width="1.02" height="26.30" fill="rgb(40,40,40)" />
<rect x="643.33" y="111.00" width="1.00" height="26.30" fill="rgb(78,78,78)" />
<rect x="644.60" y="111.00" width="1.00" height="26.30" fill="rgb(78,78,78)" />
<rect x="645.87" y="111.00" width="1.00" height="26.30" fill="rgb(78,78,78)" />
<rect x="647.89" y="111.00" width="1.02" height="26.30" fill="rgb(40,40,40)" />
<rect x="649.40" y="111.00" width="1.00" height="26.30" fill="rgb(170,170,170)" />
<rect x="651.24" y="111.00" width="1.61" height="26.30" fill="rgb(10,10,10)" />
<line x1="486.50" y1="110.40" x2="486.50" y2="137.30" stroke="#c8c8c8" stroke-width="0.8" />
<rect x="486.50" y="137.90" width="8.30" height="5.80" fill="#da4650" />
<rect x="494.50" y="137.90" width="25.30" height="5.80" fill="#de5660" />
<rect x="519.50" y="137.90" width="13.40" height="5.80" fill="#e2727e" />
<rect x="532.60" y="137.90" width="14.70" height="5.80" fill="#e68e96" />
<rect x="547.00" y="137.90" width="16.30" height="5.80" fill="#e6c8f0" />
<rect x="563.00" y="137.90" width="21.80" height="5.80" fill="#d0d0f8" />
<rect x="584.50" y="137.90" width="15.30" height="5.80" fill="#bcbcf4" />
<rect x="599.50" y="137.90" width="14.80" height="5.80" fill="#7676ec" />
<rect x="614.00" y="137.90" width="23.30" height="5.80" fill="#4c4cdc" />
<rect x="637.00" y="137.90" width="16.00" height="5.80" fill="#1c16c2" />
<line x1="486.50" y1="33.00" x2="486.50" y2="110.40" stroke="#8a8a8a" stroke-width="1" />
<line x1="482.90" y1="35.20" x2="486.50" y2="35.20" stroke="#333" stroke-width="1.1" />
<text x="478.30" y="39.30" font-size="11.4" text-anchor="end" fill="#1a1a1a" stroke="#1a1a1a" >0.02</text>
<line x1="482.90" y1="71.50" x2="486.50" y2="71.50" stroke="#333" stroke-width="1.1" />
<text x="481.20" y="75.60" font-size="11.4" text-anchor="end" fill="#1a1a1a" stroke="#1a1a1a" >-0.10</text>
<line x1="482.90" y1="110.80" x2="486.50" y2="110.80" stroke="#333" stroke-width="1.1" />
<text x="478.30" y="114.90" font-size="11.4" text-anchor="end" fill="#1a1a1a" stroke="#1a1a1a" >-0.25</text>
<polyline points="486.5,34.9 487.1,33.8 487.8,33.6 488.8,34.1 489.6,33.0 489.9,33.2 490.2,34.9 490.7,34.2 491.0,35.6 491.5,36.2 492.0,35.9 492.8,37.9 493.4,38.0 494.3,39.2 494.9,39.4 495.9,38.7 496.2,38.7 496.8,39.8 497.3,39.7 497.7,40.4 498.3,41.3 498.6,42.3 499.1,43.1 499.5,42.7 500.1,44.5 500.6,45.6 500.8,44.8 501.5,46.4 502.0,46.4 502.3,47.1 502.8,47.5 503.2,47.4 504.0,48.8 504.4,49.9 505.1,49.9 505.5,50.8 506.1,50.5 506.6,51.2 506.9,49.8 507.5,50.1 507.6,49.2 508.0,48.0 508.4,48.2 508.6,47.8 509.1,46.2 509.5,46.5 509.9,47.3 510.3,48.7 510.4,48.9 510.9,49.5 511.2,49.9 511.6,50.6 512.3,50.7 512.9,49.2 513.5,49.4 514.1,49.3 514.6,50.7 514.8,50.9 515.2,52.1 515.8,51.6 516.0,52.1 516.6,54.0 516.9,53.4 517.3,54.4 517.8,53.6 518.7,53.3 519.1,52.6 519.8,53.1 520.1,53.1 520.6,54.4 521.0,55.7 521.2,56.2 521.9,55.8 522.1,56.0 522.4,57.4 522.9,58.1 523.1,58.8 523.8,58.8 524.2,59.3 524.6,60.0 524.8,61.6 525.0,61.2 525.5,63.0 526.0,62.5 526.2,64.5 526.7,64.4 526.9,64.6 526.9,62.7 527.4,62.0 527.3,61.1 527.4,60.1 527.9,59.8 527.9,59.4 528.2,59.2 528.8,61.5 528.9,62.2 529.5,61.6 529.7,62.5 529.9,62.8 530.5,63.4 530.8,64.9 531.1,65.0 531.5,64.3 531.8,63.6 532.1,63.8 532.7,62.7 532.8,62.6 533.3,62.2 533.6,60.6 533.9,60.6 534.2,61.3 534.7,63.5 535.0,63.9 535.6,62.8 536.1,65.0 536.3,65.4 536.7,65.7 537.1,66.8 537.7,67.0 538.3,66.8 538.8,67.8 539.3,68.5 539.9,69.4 540.7,69.4 541.6,71.0 542.3,71.1 543.0,70.7 543.6,70.8 543.9,71.2 544.6,72.2 545.0,72.4 545.5,73.2 546.2,73.3 546.6,74.1 547.2,74.8 547.6,76.2 548.2,75.7 548.7,76.3 549.5,75.8 550.3,77.6 551.1,76.4 551.8,77.6 552.4,76.9 552.7,76.3 553.4,76.2 553.9,75.5 554.3,75.1 554.7,76.1 555.1,75.9 555.5,76.7 556.1,77.9 556.3,78.4 556.8,78.8 557.3,77.7 557.7,78.0 558.2,76.5 558.7,76.4 559.3,76.3 559.8,76.9 560.2,77.5 560.7,78.7 561.0,79.4 561.3,79.5 561.8,80.5 562.4,80.2 562.6,80.4 563.1,81.4 563.6,81.5 564.0,79.5 564.5,79.5 565.0,80.0 565.6,78.8 566.3,78.3 567.1,78.7 567.9,78.9 568.5,78.5 569.4,79.5 570.1,78.5 570.6,78.2 571.4,80.0 571.7,79.1 572.3,80.5 573.0,81.8 573.5,81.5 574.0,81.7 574.6,82.8 575.0,82.7 575.5,83.0 576.1,83.5 576.5,85.1 577.0,85.6 577.6,84.3 578.5,84.5 579.0,84.2 579.7,83.6 580.4,84.7 581.0,84.0 581.9,83.7 582.5,84.3 583.2,83.1 583.8,83.7 584.7,83.6 585.3,83.3 585.9,82.2 586.4,81.9 587.2,82.6 588.1,82.4 588.7,82.8 589.3,83.6 589.8,85.0 590.4,85.6 591.0,84.7 591.6,84.9 592.3,86.2 592.8,87.0 593.0,87.0 593.4,85.4 593.7,84.3 594.2,83.8 594.4,83.3 594.8,82.9 595.2,82.9 595.7,84.2 596.1,85.0 596.7,85.5 597.2,85.1 597.6,86.3 598.3,86.4 599.0,87.2 599.5,87.2 600.4,88.3 601.0,88.0 601.7,88.4 602.3,88.4 602.6,89.8 603.4,90.6 603.9,90.1 604.2,90.9 604.7,91.9 605.3,92.5 605.8,92.5 606.3,92.3 606.8,94.4 607.4,94.3 607.7,94.7 608.3,95.6 608.6,95.4 609.2,96.6 609.9,97.5 610.7,96.9 611.3,98.4 612.0,99.0 612.6,98.8 613.3,98.7 614.1,98.1 614.7,100.0 615.4,99.9 616.2,99.8 616.8,100.7 617.4,101.1 618.2,100.4 618.9,101.0 619.5,101.0 620.2,101.3 620.9,102.1 621.5,102.5 622.3,101.7 623.0,102.2 623.5,102.4 624.4,103.3 625.0,103.5 625.8,104.1 626.5,103.0 627.4,102.6 628.2,103.8 629.1,102.8 629.9,103.8 630.7,102.9 631.5,104.1 632.4,103.5 633.2,103.5 633.7,103.3 634.5,105.4 635.1,105.3 635.6,104.5 636.0,106.3 636.7,106.2 637.0,105.4 637.1,104.5 637.2,103.5 637.3,103.0 637.5,102.5 637.6,102.6 637.7,101.8 637.8,101.3 638.0,100.1 638.0,99.1 638.3,98.0 638.5,97.4 638.7,97.3 638.7,96.6 639.1,96.6 639.3,95.0 639.8,94.7 640.1,93.9 640.7,95.0 641.6,93.7 642.2,94.6 642.3,94.3 642.3,93.6 642.6,92.4 642.5,91.8 642.8,90.1 642.7,90.9 642.8,88.4 643.0,89.2 643.3,87.8 643.2,87.3 643.2,86.8 643.5,85.6 644.0,84.5 644.2,83.6 644.7,83.6 645.1,83.8 645.6,82.2 645.8,82.1 646.0,81.4 646.1,80.5 646.3,78.9 646.5,79.4 646.7,77.6 646.9,76.6 647.1,76.9 647.3,76.3 647.4,74.4 647.7,74.7 647.7,73.7 647.9,73.5 648.1,73.2 648.3,72.3 648.3,71.3 648.3,70.2 648.6,70.5 648.9,68.4 648.9,68.7 649.0,67.8 649.2,67.0 649.4,67.4 649.9,65.5 650.0,64.3 650.2,64.3 650.5,64.5 650.8,62.0 651.1,62.3 651.3,60.6 651.5,61.7 651.6,59.3 651.7,59.1 651.7,58.5 652.0,57.4 652.2,56.6 652.4,55.9 652.2,55.5 652.5,55.4 652.6,55.2 652.6,54.5 652.5,53.4 652.7,52.8 652.6,52.6 652.8,50.1 652.8,51.1 652.9,49.9 652.9,48.5 652.8,48.2 653.1,46.9 653.0,46.1 653.1,45.8 653.1,44.6 653.2,44.6 653.1,44.5 653.1,42.2 653.0,41.2 653.1,41.5 653.0,40.0 653.0,39.0 653.0,39.1 653.1,38.3" fill="none" stroke="#8ef03c" stroke-width="2.2" stroke-linejoin="round" stroke-linecap="round"/>
<text x="556.90" y="59.30" font-size="9.5" text-anchor="start" fill="#1a1a1a" stroke="#1a1a1a" >NES = -3.35</text>
<text x="556.90" y="70.10" font-size="9.5" text-anchor="start" fill="#1a1a1a" stroke="#1a1a1a" ><tspan font-style="italic">P</tspan> &lt; 0.001</text>
<text x="564.20" y="21.50" font-size="15" text-anchor="middle" fill="#111" stroke="#111" >CELL CYCLE</text>
<line x1="517.70" y1="23.90" x2="610.70" y2="23.90" stroke="#222" stroke-width="1.5" />
<text x="0" y="0" font-size="14.4" text-anchor="middle" fill="#111" stroke="#111" transform="translate(435.30,85.00) rotate(-90)">Enrichment score</text>
<line x1="507.30" y1="219.00" x2="507.30" y2="295.50" stroke="#f5f5f5" stroke-width="1" />
<line x1="529.10" y1="219.00" x2="529.10" y2="295.50" stroke="#f5f5f5" stroke-width="1" />
<line x1="549.90" y1="219.00" x2="549.90" y2="295.50" stroke="#f5f5f5" stroke-width="1" />
<line x1="571.10" y1="219.00" x2="571.10" y2="295.50" stroke="#f5f5f5" stroke-width="1" />
<line x1="591.30" y1="219.00" x2="591.30" y2="295.50" stroke="#f5f5f5" stroke-width="1" />
<line x1="612.50" y1="219.00" x2="612.50" y2="295.50" stroke="#f5f5f5" stroke-width="1" />
<line x1="633.50" y1="219.00" x2="633.50" y2="295.50" stroke="#f5f5f5" stroke-width="1" />
<line x1="654.50" y1="219.00" x2="654.50" y2="295.50" stroke="#f5f5f5" stroke-width="1" />
<line x1="486.80" y1="231.00" x2="656.00" y2="231.00" stroke="#f5f5f5" stroke-width="1" />
<line x1="486.80" y1="240.50" x2="656.00" y2="240.50" stroke="#f5f5f5" stroke-width="1" />
<line x1="486.80" y1="250.00" x2="656.00" y2="250.00" stroke="#f5f5f5" stroke-width="1" />
<line x1="486.80" y1="268.50" x2="656.00" y2="268.50" stroke="#f5f5f5" stroke-width="1" />
<line x1="486.80" y1="278.00" x2="656.00" y2="278.00" stroke="#f5f5f5" stroke-width="1" />
<line x1="486.80" y1="287.50" x2="656.00" y2="287.50" stroke="#f5f5f5" stroke-width="1" />
<line x1="486.80" y1="221.40" x2="656.00" y2="221.40" stroke="#a8a8a8" stroke-width="1" />
<line x1="486.80" y1="295.50" x2="656.00" y2="295.50" stroke="#c4c4c4" stroke-width="1" />
<rect x="487.85" y="296.10" width="1.00" height="26.20" fill="rgb(110,110,110)" />
<rect x="495.05" y="296.10" width="1.00" height="26.20" fill="rgb(120,120,120)" />
<rect x="516.15" y="296.10" width="1.00" height="26.20" fill="rgb(120,120,120)" />
<rect x="518.95" y="296.10" width="1.00" height="26.20" fill="rgb(100,100,100)" />
<rect x="557.85" y="296.10" width="1.00" height="26.20" fill="rgb(120,120,120)" />
<rect x="568.51" y="296.10" width="1.27" height="26.20" fill="rgb(120,120,120)" />
<rect x="575.81" y="296.10" width="1.27" height="26.20" fill="rgb(120,120,120)" />
<rect x="581.34" y="296.10" width="1.53" height="26.20" fill="rgb(80,80,80)" />
<rect x="591.23" y="296.10" width="2.55" height="26.20" fill="rgb(140,140,140)" />
<rect x="599.15" y="296.10" width="1.00" height="26.20" fill="rgb(130,130,130)" />
<rect x="606.09" y="296.10" width="1.02" height="26.20" fill="rgb(110,110,110)" />
<rect x="609.22" y="296.10" width="1.36" height="26.20" fill="rgb(100,100,100)" />
<rect x="614.32" y="296.10" width="1.36" height="26.20" fill="rgb(140,140,140)" />
<rect x="621.42" y="296.10" width="1.36" height="26.20" fill="rgb(130,130,130)" />
<rect x="624.23" y="296.10" width="1.44" height="26.20" fill="rgb(120,120,120)" />
<rect x="625.94" y="296.10" width="1.53" height="26.20" fill="rgb(90,90,90)" />
<rect x="630.21" y="296.10" width="2.38" height="26.20" fill="rgb(120,120,120)" />
<rect x="635.99" y="296.10" width="1.02" height="26.20" fill="rgb(120,120,120)" />
<rect x="639.21" y="296.10" width="1.27" height="26.20" fill="rgb(180,180,180)" />
<rect x="645.57" y="296.10" width="1.96" height="26.20" fill="rgb(120,120,120)" />
<rect x="650.99" y="296.10" width="1.02" height="26.20" fill="rgb(60,60,60)" />
<rect x="652.48" y="296.10" width="1.00" height="26.20" fill="rgb(84,84,84)" />
<rect x="654.23" y="296.10" width="1.00" height="26.20" fill="rgb(84,84,84)" />
<line x1="486.80" y1="295.50" x2="486.80" y2="322.30" stroke="#c8c8c8" stroke-width="0.8" />
<rect x="486.80" y="322.60" width="8.00" height="6.60" fill="#da4650" />
<rect x="494.50" y="322.60" width="25.20" height="6.60" fill="#de5660" />
<rect x="519.40" y="322.60" width="13.50" height="6.60" fill="#e2727e" />
<rect x="532.60" y="322.60" width="15.40" height="6.60" fill="#e68e96" />
<rect x="547.70" y="322.60" width="20.60" height="6.60" fill="#e6c8f0" />
<rect x="568.00" y="322.60" width="16.80" height="6.60" fill="#d0d0f8" />
<rect x="584.50" y="322.60" width="16.80" height="6.60" fill="#bcbcf4" />
<rect x="601.00" y="322.60" width="15.30" height="6.60" fill="#7676ec" />
<rect x="616.00" y="322.60" width="24.30" height="6.60" fill="#4c4cdc" />
<rect x="640.00" y="322.60" width="16.10" height="6.60" fill="#1c16c2" />
<line x1="486.80" y1="219.00" x2="486.80" y2="295.50" stroke="#8a8a8a" stroke-width="1" />
<line x1="483.20" y1="221.80" x2="486.80" y2="221.80" stroke="#333" stroke-width="1.1" />
<text x="479.60" y="225.90" font-size="11.4" text-anchor="end" fill="#1a1a1a" stroke="#1a1a1a" >0.00</text>
<line x1="483.20" y1="259.10" x2="486.80" y2="259.10" stroke="#333" stroke-width="1.1" />
<text x="481.00" y="263.20" font-size="11.4" text-anchor="end" fill="#1a1a1a" stroke="#1a1a1a" >-0.15</text>
<line x1="483.20" y1="297.20" x2="486.80" y2="297.20" stroke="#333" stroke-width="1.1" />
<text x="481.00" y="301.30" font-size="11.4" text-anchor="end" fill="#1a1a1a" stroke="#1a1a1a" >-0.30</text>
<polyline points="487.1,220.1 489.1,218.3 491.8,221.4 495.2,225.9 496.5,222.1 516.7,244.7 517.0,240.4 518.0,241.5 518.4,237.2 519.4,238.3 557.7,280.6 559.0,276.6 568.4,287.4 568.6,284.6 569.1,285.4 569.3,282.6 569.8,283.3 575.2,290.7 576.5,286.7 581.2,291.4 581.3,287.6 581.5,288.6 581.6,284.8 581.8,285.8 581.8,282.0 582.0,282.9 582.1,279.1 582.3,280.1 582.4,276.3 582.6,277.3 591.3,285.3 591.5,281.2 592.3,282.3 592.5,278.2 593.3,279.3 598.0,283.3 600.7,280.6 606.1,287.4 606.4,283.8 607.3,284.7 607.6,281.1 608.4,282.0 608.7,278.4 609.6,279.3 609.9,275.7 610.8,276.6 612.2,278.6 612.6,274.0 613.9,275.2 614.3,270.6 615.5,271.8 622.3,279.2 622.6,274.7 623.6,275.9 624.0,271.4 625.0,272.5 625.3,268.0 626.3,269.2 626.5,265.2 627.0,266.3 627.1,262.3 627.6,263.3 627.8,259.4 628.3,260.4 630.3,261.8 630.4,257.7 630.8,258.8 631.0,254.7 631.3,255.7 631.5,251.7 631.9,252.7 632.0,248.6 632.4,249.7 634.4,251.7 637.1,248.3 639.1,251.0 639.4,247.8 640.1,248.7 640.4,245.5 641.1,246.3 645.1,253.0 645.4,249.4 646.5,250.3 646.8,246.7 647.8,247.7 648.2,244.1 649.2,245.0 651.2,248.3 651.3,243.8 651.5,245.0 651.6,240.4 651.9,241.6 651.9,237.1 652.2,238.3 652.3,233.7 652.5,234.9 652.8,229.9 653.5,231.2 653.8,226.2 654.5,227.5 654.7,223.4 655.2,224.4 655.4,220.3 655.9,221.4" fill="none" stroke="#8ef03c" stroke-width="1.8" stroke-linejoin="round" stroke-linecap="round"/>
<text x="558.30" y="244.30" font-size="9.5" text-anchor="start" fill="#1a1a1a" stroke="#1a1a1a" >NES = -2.62</text>
<text x="558.30" y="255.10" font-size="9.5" text-anchor="start" fill="#1a1a1a" stroke="#1a1a1a" ><tspan font-style="italic">P</tspan> = 0.001</text>
<text x="573.15" y="194.90" font-size="15" text-anchor="middle" fill="#111" stroke="#111" >DNA REPLICATION</text>
<line x1="504.60" y1="196.80" x2="641.70" y2="196.80" stroke="#222" stroke-width="1.5" />
<text x="0" y="0" font-size="14.4" text-anchor="middle" fill="#111" stroke="#111" transform="translate(435.30,272.00) rotate(-90)">Enrichment score</text>
<line x1="511.30" y1="395.00" x2="511.30" y2="474.00" stroke="#f5f5f5" stroke-width="1" />
<line x1="532.00" y1="395.00" x2="532.00" y2="474.00" stroke="#f5f5f5" stroke-width="1" />
<line x1="553.00" y1="395.00" x2="553.00" y2="474.00" stroke="#f5f5f5" stroke-width="1" />
<line x1="574.00" y1="395.00" x2="574.00" y2="474.00" stroke="#f5f5f5" stroke-width="1" />
<line x1="594.80" y1="395.00" x2="594.80" y2="474.00" stroke="#f5f5f5" stroke-width="1" />
<line x1="615.60" y1="395.00" x2="615.60" y2="474.00" stroke="#f5f5f5" stroke-width="1" />
<line x1="636.90" y1="395.00" x2="636.90" y2="474.00" stroke="#f5f5f5" stroke-width="1" />
<line x1="657.50" y1="395.00" x2="657.50" y2="474.00" stroke="#f5f5f5" stroke-width="1" />
<line x1="490.90" y1="411.50" x2="659.70" y2="411.50" stroke="#f5f5f5" stroke-width="1" />
<line x1="490.90" y1="420.50" x2="659.70" y2="420.50" stroke="#f5f5f5" stroke-width="1" />
<line x1="490.90" y1="429.50" x2="659.70" y2="429.50" stroke="#f5f5f5" stroke-width="1" />
<line x1="490.90" y1="447.50" x2="659.70" y2="447.50" stroke="#f5f5f5" stroke-width="1" />
<line x1="490.90" y1="456.50" x2="659.70" y2="456.50" stroke="#f5f5f5" stroke-width="1" />
<line x1="490.90" y1="465.50" x2="659.70" y2="465.50" stroke="#f5f5f5" stroke-width="1" />
<line x1="490.90" y1="402.50" x2="659.70" y2="402.50" stroke="#a8a8a8" stroke-width="1" />
<line x1="490.90" y1="474.00" x2="659.70" y2="474.00" stroke="#c4c4c4" stroke-width="1" />
<rect x="491.30" y="474.60" width="1.19" height="26.00" fill="rgb(175,175,175)" />
<rect x="519.95" y="474.60" width="1.00" height="26.00" fill="rgb(120,120,120)" />
<rect x="522.95" y="474.60" width="1.00" height="26.00" fill="rgb(90,90,90)" />
<rect x="561.05" y="474.60" width="1.00" height="26.00" fill="rgb(80,80,80)" />
<rect x="585.61" y="474.60" width="1.19" height="26.00" fill="rgb(110,110,110)" />
<rect x="593.52" y="474.60" width="1.00" height="26.00" fill="rgb(90,90,90)" />
<rect x="595.38" y="474.60" width="1.00" height="26.00" fill="rgb(90,90,90)" />
<rect x="603.05" y="474.60" width="1.00" height="26.00" fill="rgb(100,100,100)" />
<rect x="611.11" y="474.60" width="1.27" height="26.00" fill="rgb(170,170,170)" />
<rect x="617.79" y="474.60" width="2.12" height="26.00" fill="rgb(130,130,130)" />
<rect x="625.20" y="474.60" width="1.19" height="26.00" fill="rgb(140,140,140)" />
<rect x="626.61" y="474.60" width="1.27" height="26.00" fill="rgb(110,110,110)" />
<rect x="629.95" y="474.60" width="1.00" height="26.00" fill="rgb(110,110,110)" />
<rect x="632.80" y="474.60" width="1.00" height="26.00" fill="rgb(80,80,80)" />
<rect x="643.10" y="474.60" width="1.00" height="26.00" fill="rgb(90,90,90)" />
<rect x="653.32" y="474.60" width="2.46" height="26.00" fill="rgb(100,100,100)" />
<rect x="658.50" y="474.60" width="1.00" height="26.00" fill="rgb(130,130,130)" />
<line x1="490.90" y1="474.00" x2="490.90" y2="500.60" stroke="#c8c8c8" stroke-width="0.8" />
<rect x="490.90" y="501.10" width="7.20" height="6.60" fill="#da4650" />
<rect x="497.80" y="501.10" width="25.30" height="6.60" fill="#de5660" />
<rect x="522.80" y="501.10" width="13.40" height="6.60" fill="#e2727e" />
<rect x="535.90" y="501.10" width="16.10" height="6.60" fill="#e68e96" />
<rect x="551.70" y="501.10" width="20.00" height="6.60" fill="#e6c8f0" />
<rect x="571.40" y="501.10" width="15.30" height="6.60" fill="#d0d0f8" />
<rect x="586.40" y="501.10" width="18.10" height="6.60" fill="#bcbcf4" />
<rect x="604.20" y="501.10" width="14.80" height="6.60" fill="#7676ec" />
<rect x="618.70" y="501.10" width="25.00" height="6.60" fill="#4c4cdc" />
<rect x="643.40" y="501.10" width="15.60" height="6.60" fill="#1c16c2" />
<line x1="490.90" y1="395.00" x2="490.90" y2="474.00" stroke="#8a8a8a" stroke-width="1" />
<line x1="487.30" y1="398.30" x2="490.90" y2="398.30" stroke="#333" stroke-width="1.1" />
<text x="484.30" y="402.40" font-size="11.4" text-anchor="end" fill="#1a1a1a" stroke="#1a1a1a" >0.05</text>
<line x1="487.30" y1="434.10" x2="490.90" y2="434.10" stroke="#333" stroke-width="1.1" />
<text x="484.30" y="438.20" font-size="11.4" text-anchor="end" fill="#1a1a1a" stroke="#1a1a1a" >-0.20</text>
<line x1="487.30" y1="473.70" x2="490.90" y2="473.70" stroke="#333" stroke-width="1.1" />
<text x="484.30" y="477.80" font-size="11.4" text-anchor="end" fill="#1a1a1a" stroke="#1a1a1a" >-0.40</text>
<polyline points="491.1,397.4 492.5,396.1 496.5,401.4 520.0,426.1 520.2,421.2 520.7,422.5 520.9,417.6 521.4,418.9 522.7,421.6 522.9,416.6 523.4,417.9 523.6,412.9 524.1,414.2 560.7,452.6 560.9,447.6 561.4,448.9 561.5,443.9 562.0,445.2 585.5,470.7 585.6,466.9 585.8,467.9 585.9,464.1 586.1,465.1 586.1,461.3 586.3,462.2 586.4,458.4 586.6,459.4 586.7,455.6 586.9,456.6 592.9,463.3 593.1,458.3 593.6,459.6 593.8,454.6 594.3,455.9 594.5,451.4 595.0,452.5 595.1,448.0 595.6,449.2 595.8,445.6 596.3,446.5 596.5,442.9 597.0,443.8 600.3,450.5 600.6,446.0 601.6,447.1 602.0,442.6 603.0,443.8 610.6,451.0 610.9,446.7 611.7,447.8 612.0,443.5 612.8,444.6 617.7,450.3 617.8,446.2 618.2,447.3 618.4,443.2 618.8,444.2 618.9,440.2 619.3,441.2 619.5,437.1 619.9,438.2 625.6,443.2 625.7,438.9 626.1,440.0 626.3,435.7 626.6,436.8 626.8,432.5 627.2,433.6 627.3,429.3 627.7,430.4 629.8,433.3 630.1,429.5 630.9,430.4 631.1,426.6 632.0,427.6 632.2,423.8 633.0,424.7 633.3,420.9 634.1,421.9 642.6,430.4 642.8,426.6 643.3,427.6 643.5,423.8 644.0,424.8 653.2,434.0 653.4,429.2 654.0,430.4 654.1,425.7 654.7,426.9 654.8,422.6 654.9,423.7 655.0,419.4 655.2,420.5 655.2,416.2 655.4,417.3 655.5,413.0 655.6,414.1 655.7,409.8 655.9,410.9 655.9,406.6 656.1,407.7 656.8,406.3 659.6,409.8" fill="none" stroke="#8ef03c" stroke-width="1.8" stroke-linejoin="round" stroke-linecap="round"/>
<text x="557.00" y="425.20" font-size="9.5" text-anchor="start" fill="#1a1a1a" stroke="#1a1a1a" >NES = -2.19</text>
<text x="557.00" y="435.70" font-size="9.5" text-anchor="start" fill="#1a1a1a" stroke="#1a1a1a" ><tspan font-style="italic">P</tspan> = 0.012</text>
<text x="574.75" y="378.60" font-size="15" text-anchor="middle" fill="#111" stroke="#111" >MISMATCH REPAIR</text>
<line x1="504.10" y1="381.10" x2="645.40" y2="381.10" stroke="#222" stroke-width="1.5" />
<text x="0" y="0" font-size="14.4" text-anchor="middle" fill="#111" stroke="#111" transform="translate(438.50,452.00) rotate(-90)">Enrichment score</text>
<line x1="128.60" y1="547.50" x2="128.60" y2="630.80" stroke="#f3f3f3" stroke-width="1" />
<line x1="152.60" y1="547.50" x2="152.60" y2="630.80" stroke="#f3f3f3" stroke-width="1" />
<line x1="176.90" y1="547.50" x2="176.90" y2="630.80" stroke="#f3f3f3" stroke-width="1" />
<line x1="226.30" y1="547.50" x2="226.30" y2="630.80" stroke="#f3f3f3" stroke-width="1" />
<line x1="250.80" y1="547.50" x2="250.80" y2="630.80" stroke="#f3f3f3" stroke-width="1" />
<line x1="274.50" y1="547.50" x2="274.50" y2="630.80" stroke="#f3f3f3" stroke-width="1" />
<line x1="201.80" y1="547.50" x2="201.80" y2="630.80" stroke="#e0e0e0" stroke-width="1" stroke-dasharray="3,2"/>
<line x1="103.70" y1="548.20" x2="278.90" y2="548.20" stroke="#f1f1f1" stroke-width="1" />
<line x1="103.70" y1="574.30" x2="278.90" y2="574.30" stroke="#f1f1f1" stroke-width="1" />
<line x1="103.70" y1="605.50" x2="278.90" y2="605.50" stroke="#f1f1f1" stroke-width="1" />
<line x1="103.70" y1="621.30" x2="160.00" y2="621.30" stroke="#f1f1f1" stroke-width="1" />
<path d="M104.0,589.9 L104.0,561.5 L104.7,563.4 L106.0,572.9 L108.0,578.2 L110.0,580.6 L113.4,582.9 L117.0,584.3 L120.0,585.3 L125.0,586.3 L130.0,587.0 L136.0,587.6 L140.0,588.2 L155.0,588.8 L175.0,589.2 L200.0,589.5 L200,589.9 Z" fill="#bdbdbd"/>
<path d="M200,589.9 L200.0,590.1 L240.0,590.4 L251.7,590.9 L261.7,592.6 L266.8,594.2 L270.9,595.9 L273.5,598.4 L275.1,601.8 L276.4,607.6 L277.2,615.1 L278.1,630.2 L279.1,631.0 L279.1,589.9 Z" fill="#bdbdbd"/>
<line x1="103.70" y1="589.90" x2="278.90" y2="589.90" stroke="#c0c0c0" stroke-width="1.4" />
<line x1="103.70" y1="546.50" x2="103.70" y2="631.80" stroke="#c8c8c8" stroke-width="1.6" />
<line x1="100.70" y1="631.80" x2="284.70" y2="631.80" stroke="#9a9a9a" stroke-width="1.8" />
<line x1="99.30" y1="548.20" x2="102.70" y2="548.20" stroke="#333" stroke-width="1.1" />
<text x="97.00" y="552.10" font-size="11" text-anchor="end" fill="#1a1a1a" stroke="#1a1a1a" >3.00</text>
<line x1="99.30" y1="590.20" x2="102.70" y2="590.20" stroke="#333" stroke-width="1.1" />
<text x="97.00" y="594.10" font-size="11" text-anchor="end" fill="#1a1a1a" stroke="#1a1a1a" >0</text>
<line x1="99.30" y1="630.60" x2="102.70" y2="630.60" stroke="#333" stroke-width="1.1" />
<text x="97.00" y="634.50" font-size="11" text-anchor="end" fill="#1a1a1a" stroke="#1a1a1a" >-3.00</text>
<text x="110.00" y="564.70" font-size="12.5" text-anchor="start" fill="#111" stroke="#111" ><tspan fill="#c82028" stroke="#c82028">deleted</tspan> <tspan fill="#222" stroke="#222">&gt;</tspan> <tspan fill="#2222c8" stroke="#2222c8">normal</tspan></text>
<text x="168.20" y="624.10" font-size="12.5" text-anchor="start" fill="#111" stroke="#111" ><tspan fill="#2222c8" stroke="#2222c8">deleted</tspan> <tspan fill="#222" stroke="#222">&lt;</tspan> <tspan fill="#c82028" stroke="#c82028">normal</tspan></text>
<text x="104.90" y="647.60" font-size="9.6" text-anchor="middle" fill="#1a1a1a" stroke="#1a1a1a" >0</text>
<text x="195.80" y="647.60" font-size="9.6" text-anchor="middle" fill="#1a1a1a" stroke="#1a1a1a" >10,000</text>
<text x="286.00" y="647.60" font-size="9.6" text-anchor="middle" fill="#1a1a1a" stroke="#1a1a1a" >20,000</text>
<text x="192.90" y="662.30" font-size="9.7" text-anchor="middle" fill="#1a1a1a" stroke="#1a1a1a" >Ranked gene list</text>
<text font-size="13.7" text-anchor="middle" fill="#111" stroke="#111" transform="translate(45.6,588.9) rotate(-90)">Fold change</text>
<text font-size="13.7" text-anchor="middle" fill="#111" stroke="#111" transform="translate(62.0,589.7) rotate(-90)">(log<tspan font-size="9" dy="3">2</tspan><tspan dy="-3">)</tspan></text>
<line x1="507.50" y1="547.50" x2="507.50" y2="631.50" stroke="#f3f3f3" stroke-width="1" />
<line x1="528.50" y1="547.50" x2="528.50" y2="631.50" stroke="#f3f3f3" stroke-width="1" />
<line x1="592.00" y1="547.50" x2="592.00" y2="631.50" stroke="#f3f3f3" stroke-width="1" />
<line x1="614.80" y1="547.50" x2="614.80" y2="631.50" stroke="#f3f3f3" stroke-width="1" />
<line x1="635.80" y1="547.50" x2="635.80" y2="631.50" stroke="#f3f3f3" stroke-width="1" />
<line x1="657.70" y1="547.50" x2="657.70" y2="631.50" stroke="#f3f3f3" stroke-width="1" />
<line x1="569.30" y1="547.50" x2="569.30" y2="631.50" stroke="#e0e0e0" stroke-width="1" stroke-dasharray="3,2"/>
<line x1="550.60" y1="577.00" x2="550.60" y2="607.00" stroke="#e8e8e8" stroke-width="1" stroke-dasharray="3,2"/>
<line x1="550.60" y1="580.00" x2="550.60" y2="584.00" stroke="#b0b0b0" stroke-width="1" />
<line x1="486.40" y1="548.10" x2="659.50" y2="548.10" stroke="#f1f1f1" stroke-width="1" />
<line x1="486.40" y1="564.80" x2="659.50" y2="564.80" stroke="#f1f1f1" stroke-width="1" />
<line x1="486.40" y1="580.50" x2="659.50" y2="580.50" stroke="#f1f1f1" stroke-width="1" />
<line x1="486.40" y1="611.50" x2="508.00" y2="611.50" stroke="#f1f1f1" stroke-width="1" />
<line x1="486.40" y1="627.60" x2="508.00" y2="627.60" stroke="#f1f1f1" stroke-width="1" />
<path d="M486.4,595.4 L486.9,568.1 L487.5,573.2 L489.3,576.9 L492.6,579.5 L496.6,581.6 L503.9,584.2 L511.2,586.0 L518.5,587.8 L525.8,589.7 L532.0,591.1 L540.0,592.6 L548.0,593.7 L556.0,594.5 L562.0,595.0 L569.3,595.5 L580.0,597.5 L593.8,599.8 L607.0,602.0 L620.0,603.9 L628.2,605.6 L636.4,607.2 L644.7,609.7 L648.8,611.3 L653.0,613.8 L655.5,616.2 L657.5,620.4 L658.5,627.8 L659.1,628.6 L659.1,595.4 Z" fill="#bfbfbf"/>
<line x1="486.40" y1="546.50" x2="486.40" y2="632.50" stroke="#c8c8c8" stroke-width="1.6" />
<line x1="485.70" y1="632.50" x2="666.40" y2="632.50" stroke="#9a9a9a" stroke-width="1.8" />
<line x1="481.20" y1="548.70" x2="484.70" y2="548.70" stroke="#333" stroke-width="1.1" />
<text x="477.90" y="552.60" font-size="11" text-anchor="end" fill="#1a1a1a" stroke="#1a1a1a" >1.00</text>
<line x1="481.20" y1="591.40" x2="484.70" y2="591.40" stroke="#333" stroke-width="1.1" />
<text x="477.90" y="595.30" font-size="11" text-anchor="end" fill="#1a1a1a" stroke="#1a1a1a" >0</text>
<line x1="481.20" y1="631.40" x2="484.70" y2="631.40" stroke="#333" stroke-width="1.1" />
<text x="477.90" y="635.30" font-size="11" text-anchor="end" fill="#1a1a1a" stroke="#1a1a1a" >-1.00</text>
<text x="502.60" y="566.30" font-size="12.45" text-anchor="start" fill="#c82028" stroke="#c82028" >positive correlation</text>
<text x="518.00" y="626.70" font-size="12.55" text-anchor="start" fill="#2222c8" stroke="#2222c8" >negative correlation</text>
<line x1="638.30" y1="628.60" x2="640.60" y2="628.60" stroke="#6a6ae0" stroke-width="1" />
<text x="487.00" y="648.10" font-size="9.6" text-anchor="middle" fill="#1a1a1a" stroke="#1a1a1a" >0</text>
<text x="578.00" y="648.10" font-size="9.6" text-anchor="middle" fill="#1a1a1a" stroke="#1a1a1a" >10,000</text>
<text x="668.20" y="648.10" font-size="9.6" text-anchor="middle" fill="#1a1a1a" stroke="#1a1a1a" >20,000</text>
<text x="574.40" y="663.30" font-size="9.7" text-anchor="middle" fill="#1a1a1a" stroke="#1a1a1a" >Ranked gene list</text>
<text font-size="13.7" text-anchor="middle" fill="#111" stroke="#111" transform="translate(422.5,590.0) rotate(-90)">Correlation</text>
<text font-size="13.7" text-anchor="middle" fill="#111" stroke="#111" transform="translate(438.6,590.6) rotate(-90)">coefficient</text>
</g>
</svg>
</body></html>
